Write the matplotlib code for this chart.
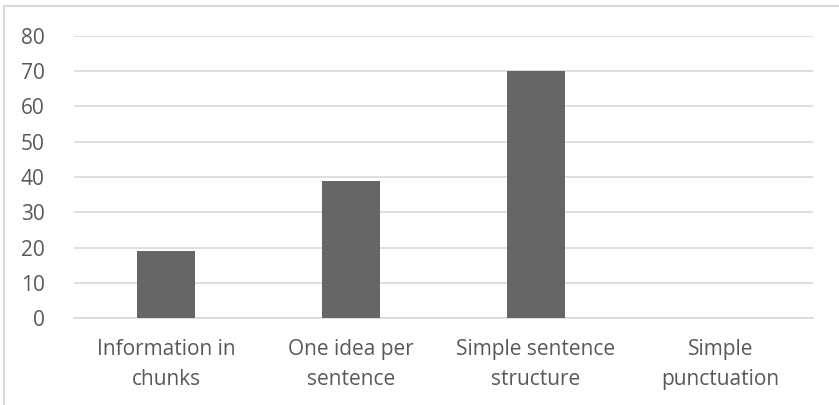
import matplotlib.pyplot as plt
from matplotlib.patches import Rectangle

categories = ["Information in\nchunks", "One idea per\nsentence",
              "Simple sentence\nstructure", "Simple\npunctuation"]
values = [19, 39, 70, 0]
yticks = [0, 10, 20, 30, 40, 50, 60, 70, 80]

plt.rcParams['font.family'] = ['Open Sans', 'DejaVu Sans']

fig = plt.figure(figsize=(8.39, 4.05), dpi=100)
fig.patch.set_facecolor("white")
ax = fig.add_axes([74 / 839, 1 - 318 / 405, 739 / 839, 282 / 405])

x = range(len(categories))
ax.bar(x, values, width=0.314, color="#666666", zorder=3)

ax.set_xlim(-0.5, len(categories) - 0.5)
ax.set_ylim(0, 80)
ax.set_yticks(yticks)
ax.set_xticks(list(x))
ax.set_xticklabels(categories, linespacing=1.6)

ax.grid(axis="y", color="#d9d9d9", lw=1.2, zorder=0)
for s in ["top", "right", "left"]:
    ax.spines[s].set_visible(False)
ax.spines["bottom"].set_color("#d9d9d9")
ax.spines["bottom"].set_linewidth(1.2)
ax.tick_params(axis="both", length=0, labelsize=15, labelcolor="#595959")
ax.tick_params(axis="x", pad=15)
ax.tick_params(axis="y", pad=21)

# chart border (left and top only visible in the crop)
fig.add_artist(Rectangle((4 / 839, -0.1), 1.2, 1 - 6 / 405 + 0.1,
                         transform=fig.transFigure, fill=False,
                         edgecolor="#d9d9d9", lw=1.5))

fig.savefig("out.png", dpi=100, facecolor="white")
